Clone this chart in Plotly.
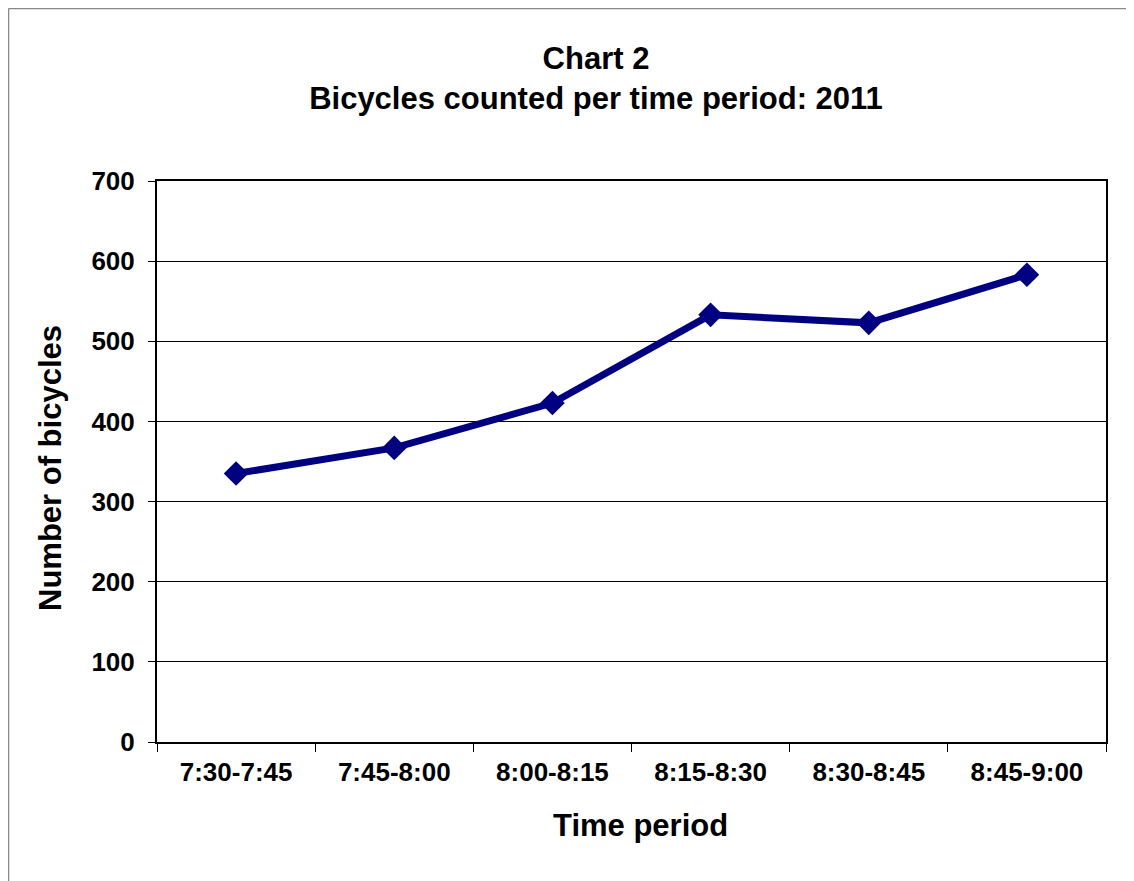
import plotly.graph_objects as go

periods = ["7:30-7:45", "7:45-8:00", "8:00-8:15", "8:15-8:30", "8:30-8:45", "8:45-9:00"]
bicycles = [335, 367, 423, 533, 523, 583]

FONT = "Liberation Sans, Arial, sans-serif"

# page body has an 8px margin; work in figure pixels = screen pixels - 8
W, H = 1126, 873
L, R, T, B = 149, 28, 173, 139
PW, PH = W - L - R, H - T - B

fig = go.Figure()
fig.add_trace(go.Scatter(
    x=periods, y=bicycles, mode="lines+markers",
    line=dict(color="#000080", width=7),
    marker=dict(symbol="diamond", size=19, color="#000080"),
    showlegend=False,
))

fig.update_layout(
    width=W, height=H,
    margin=dict(l=L, r=R, t=T, b=B),
    paper_bgcolor="white", plot_bgcolor="white",
    font=dict(family=FONT, color="black"),
    title=dict(
        text="<b>Chart 2<br>Bicycles counted per time period: 2011</b>",
        x=588 / W, xanchor="center", y=1 - 61 / H, yanchor="middle",
        font=dict(size=31, family=FONT, color="black"),
    ),
    xaxis=dict(
        type="category", range=[-0.5, 5.5],
        tickson="boundaries", ticks="outside", ticklen=8, tickcolor="black",
        showline=True, linecolor="black", linewidth=2, mirror=True,
        showgrid=False,
        tickfont=dict(size=26, family=FONT, color="black"),
        tickprefix="<b>", ticksuffix="</b>",
        ticklabelstandoff=6,
    ),
    yaxis=dict(
        range=[0, 700], dtick=100,
        ticks="outside", ticklen=7, tickcolor="black",
        showline=True, linecolor="black", linewidth=2, mirror=True,
        showgrid=True, gridcolor="black", gridwidth=1,
        tickfont=dict(size=26, family=FONT, color="black"),
        tickprefix="<b>", ticksuffix="</b>",
        ticklabelstandoff=8,
    ),
)

fig.add_annotation(text="<b>Time period</b>", xref="paper", yref="paper",
                   x=(632 - L) / PW, y=(T + PH - 817) / PH,
                   xanchor="center", yanchor="middle", showarrow=False,
                   font=dict(size=31, family=FONT, color="black"))
fig.add_annotation(text="<b>Number of bicycles</b>", xref="paper", yref="paper",
                   x=(42 - L) / PW, y=(T + PH - 460) / PH, textangle=-90,
                   xanchor="center", yanchor="middle", showarrow=False,
                   font=dict(size=31, family=FONT, color="black"))

# outer chart border (left and top visible)
fig.add_shape(type="line", xref="paper", yref="paper",
              x0=(0.5 - L) / PW, x1=(0.5 - L) / PW, y0=(T + PH - H - 20) / PH, y1=(T + PH - 0.5) / PH,
              line=dict(color="#888888", width=1.5))
fig.add_shape(type="line", xref="paper", yref="paper",
              x0=(0.5 - L) / PW, x1=(W + 20 - L) / PW, y0=(T + PH - 0.5) / PH, y1=(T + PH - 0.5) / PH,
              line=dict(color="#888888", width=1.5))

fig.write_html("out.html")
